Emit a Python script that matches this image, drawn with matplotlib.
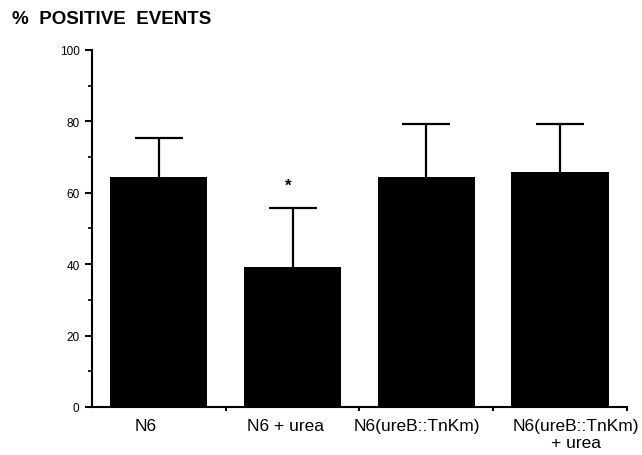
import numpy as np
import matplotlib
matplotlib.use('Agg')
import matplotlib.pyplot as plt

# data
groups = ['N6', 'N6 + urea', 'N6(ureB::TnKm)', 'N6(ureB::TnKm)\n+ urea']
means = [64.4, 39.2, 64.4, 65.8]
errs = [11.0, 16.5, 14.9, 13.5]
signif = ['', '*', '', '']

plt.rcParams['font.family'] = ['Liberation Sans', 'DejaVu Sans']

fig = plt.figure(figsize=(6.42, 4.56), dpi=100)
ax = fig.add_axes([0.1433, 0.1053, 0.8333, 0.7829])

x = np.arange(len(groups))
ax.bar(x, means, width=0.727, color='black', zorder=2)
eb = ax.errorbar(x, means, yerr=[np.zeros(len(errs)), errs], fmt='none',
                 ecolor='black', elinewidth=1.6, capsize=17.6, capthick=1.6, zorder=1)
# only the upper cap is drawn in the original
eb[1][0].set_visible(False)

for i in range(len(groups)):
    if signif[i]:
        ax.text(x[i] - 0.03, means[i] + errs[i] + 6.5, signif[i], ha='center',
                va='center', fontsize=12, fontweight='bold')

ax.set_xlim(-0.5, 3.5)
ax.set_ylim(0, 100)

for s in ['top', 'right']:
    ax.spines[s].set_visible(False)
for s in ['left', 'bottom']:
    ax.spines[s].set_linewidth(1.5)

# y ticks
ax.set_yticks([0, 20, 40, 60, 80, 100])
ax.set_yticks([10, 30, 50, 70, 90], minor=True)
ax.tick_params(axis='y', which='major', length=5, width=1.5, labelsize=8.5, pad=4)
ax.tick_params(axis='y', which='minor', length=3, width=1.2)

# x ticks between bars, labels placed under each bar
ax.set_xticks([0.5, 1.5, 2.5, 3.5])
ax.set_xticklabels([])
ax.tick_params(axis='x', which='major', length=3, width=1.5)
label_pos = [-0.1, 0.95, 1.93, 3.12]
ax.set_xticks(label_pos, minor=True)
ax.set_xticklabels(groups, minor=True, fontsize=12.5)
ax.tick_params(axis='x', which='minor', length=0, pad=8)

fig.text(12 / 642, 1 - 19 / 456, '%  POSITIVE  EVENTS', fontsize=13.5,
         fontweight='bold', va='center', ha='left')

fig.savefig('out.png', dpi=100)
